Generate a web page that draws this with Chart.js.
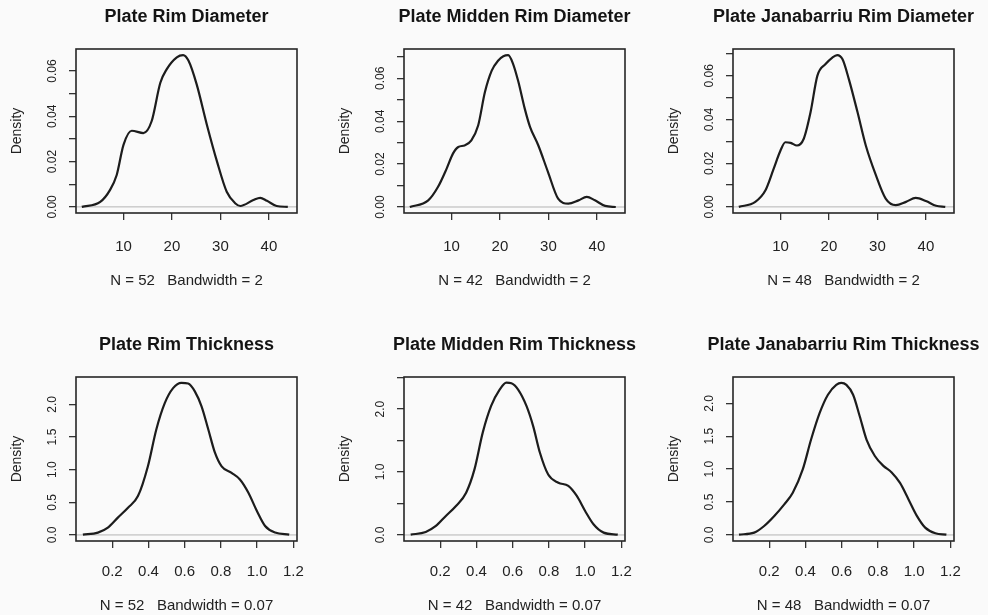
<!DOCTYPE html>
<html>
<head>
<meta charset="utf-8">
<script src="https://cdn.jsdelivr.net/npm/chart.js@4.4.1/dist/chart.umd.min.js"></script>
<style>
  html, body { margin: 0; padding: 0; background: #fafafa; overflow: hidden; }
  #wrap { position: relative; width: 988px; height: 615px; }
  canvas { position: absolute; }
</style>
</head>
<body>
<div id="wrap">
  <canvas id="p1" width="371" height="300" style="left:1px;top:0px"></canvas>
  <canvas id="p2" width="371" height="300" style="left:329px;top:0px"></canvas>
  <canvas id="p3" width="371" height="300" style="left:658px;top:0px"></canvas>
  <canvas id="p4" width="371" height="300" style="left:1px;top:328px"></canvas>
  <canvas id="p5" width="371" height="300" style="left:329px;top:328px"></canvas>
  <canvas id="p6" width="371" height="300" style="left:658px;top:328px"></canvas>
</div>
<script>
// density curves
const rimDiamX = [1.4, 5.2, 7.2, 8.6, 10.0, 11.7, 14.1, 15.8, 17.6, 18.9, 21.0, 22.3, 23.4, 25.1, 27.2, 29.3, 31.3, 33.1, 34.1, 36.8, 38.2, 39.6, 41.6, 43.9];
const rimDiamY = [0, 0.0022, 0.0074, 0.0141, 0.0274, 0.0336, 0.0326, 0.0378, 0.0548, 0.0607, 0.0660, 0.0670, 0.0646, 0.0541, 0.0363, 0.0200, 0.0067, 0.0015, 0.0004, 0.0030, 0.0040, 0.0027, 0.0004, 0];

const middenDiamX = [1.4, 5.2, 7.2, 9.0, 10.3, 11.4, 12.7, 14.1, 15.5, 16.9, 18.3, 19.6, 20.7, 21.7, 22.7, 23.8, 25.1, 26.2, 27.9, 29.9, 32.0, 34.1, 36.2, 37.9, 39.6, 41.7, 43.9];
const middenDiamY = [0, 0.0031, 0.0093, 0.0179, 0.0249, 0.0280, 0.0287, 0.0311, 0.0380, 0.0536, 0.0636, 0.0682, 0.0703, 0.0708, 0.0668, 0.0584, 0.0460, 0.0374, 0.0288, 0.0164, 0.0039, 0.0016, 0.0031, 0.0047, 0.0031, 0.0005, 0];

const janDiamX = [1.4, 4.8, 6.9, 8.6, 10.0, 11.0, 12.1, 13.4, 14.8, 16.2, 17.6, 19.3, 20.7, 21.7, 22.8, 24.1, 25.9, 27.6, 29.7, 31.7, 33.8, 35.9, 37.9, 40.0, 42.1, 44.0];
const janDiamY = [0, 0.0023, 0.0076, 0.0175, 0.0258, 0.0296, 0.0293, 0.0281, 0.0312, 0.0433, 0.0600, 0.0654, 0.0684, 0.0695, 0.0676, 0.0585, 0.0433, 0.0281, 0.0144, 0.0038, 0.0008, 0.0023, 0.0041, 0.0027, 0.0005, 0];

const rimThickX = [0.038, 0.121, 0.176, 0.231, 0.287, 0.342, 0.397, 0.443, 0.490, 0.536, 0.582, 0.619, 0.656, 0.693, 0.730, 0.767, 0.804, 0.859, 0.905, 0.951, 0.998, 1.044, 1.099, 1.177];
const rimThickY = [0.005, 0.036, 0.112, 0.265, 0.417, 0.595, 1.053, 1.613, 2.02, 2.25, 2.33, 2.32, 2.20, 1.97, 1.62, 1.26, 1.05, 0.95, 0.85, 0.65, 0.37, 0.137, 0.036, 0.005];

const middenThickX = [0.037, 0.120, 0.176, 0.231, 0.287, 0.343, 0.389, 0.435, 0.481, 0.528, 0.565, 0.593, 0.630, 0.676, 0.713, 0.750, 0.796, 0.852, 0.907, 0.954, 1.000, 1.046, 1.102, 1.180];
const middenThickY = [0.005, 0.048, 0.143, 0.302, 0.460, 0.672, 1.042, 1.63, 2.05, 2.31, 2.42, 2.41, 2.31, 2.05, 1.73, 1.31, 0.96, 0.83, 0.78, 0.62, 0.38, 0.17, 0.037, 0.005];

const janThickX = [0.033, 0.117, 0.172, 0.228, 0.283, 0.330, 0.385, 0.431, 0.478, 0.524, 0.570, 0.598, 0.626, 0.663, 0.700, 0.737, 0.783, 0.830, 0.876, 0.922, 0.969, 1.015, 1.061, 1.117, 1.178];
const janThickY = [0.005, 0.035, 0.136, 0.288, 0.465, 0.641, 0.995, 1.45, 1.85, 2.13, 2.28, 2.31, 2.28, 2.13, 1.80, 1.45, 1.20, 1.05, 0.95, 0.79, 0.54, 0.29, 0.111, 0.025, 0.005];

// ticks
const diamXTicks = [10, 20, 30, 40];
const diamXLabels = ["10", "20", "30", "40"];
const thickXTicks = [0.2, 0.4, 0.6, 0.8, 1.0, 1.2];
const thickXLabels = ["0.2", "0.4", "0.6", "0.8", "1.0", "1.2"];
const diamYTicks = [0, 0.01, 0.02, 0.03, 0.04, 0.05, 0.06, 0.07];
const diamYLabels = ["0.00", "", "0.02", "", "0.04", "", "0.06", ""];
const thickYTicks = [0, 0.5, 1.0, 1.5, 2.0, 2.5];
const thickYLabels = ["0.0", "0.5", "1.0", "1.5", "2.0", ""];
const middenThickYLabels = ["0.0", "", "1.0", "", "2.0", ""];

// axis ranges (as drawn)
const diamXRange = [0.2, 45.8];
const thickXRange = [0.0, 1.22];
const yRanges = [[-0.0027, 0.0697], [-0.0028, 0.0737], [-0.0028, 0.0723], [-0.093, 2.42], [-0.096, 2.51], [-0.092, 2.40]];

const titles = ["Plate Rim Diameter", "Plate Midden Rim Diameter", "Plate Janabarriu Rim Diameter",
                "Plate Rim Thickness", "Plate Midden Rim Thickness", "Plate Janabarriu Rim Thickness"];
const xLabels = ["N = 52   Bandwidth = 2", "N = 42   Bandwidth = 2", "N = 48   Bandwidth = 2",
                 "N = 52   Bandwidth = 0.07", "N = 42   Bandwidth = 0.07", "N = 48   Bandwidth = 0.07"];

Chart.defaults.font.family = "'Liberation Sans', Arial, sans-serif";
Chart.defaults.color = "#222";

const frame = {
  id: "frame",
  beforeDatasetsDraw(chart) {
    const {ctx, chartArea: a, scales} = chart;
    const y0 = scales.y.getPixelForValue(0);
    ctx.save();
    ctx.strokeStyle = "#b4b4b4";
    ctx.lineWidth = 1;
    ctx.beginPath();
    ctx.moveTo(a.left, y0);
    ctx.lineTo(a.right, y0);
    ctx.stroke();
    ctx.restore();
  },
  afterDraw(chart) {
    const {ctx, chartArea: a} = chart;
    ctx.save();
    ctx.strokeStyle = "#262626";
    ctx.lineWidth = 1.6;
    ctx.strokeRect(a.left, a.top, a.right - a.left, a.bottom - a.top);
    ctx.restore();
  }
};

const measure = document.createElement("canvas").getContext("2d");

function panel(id, i, xs, ys, xRange, xTicks, xTickLabels, yTicks, yTickLabels) {
  const yr = yRanges[i];
  const topRow = i < 3;
  measure.font = "12px 'Liberation Sans'";
  const widest = Math.max(...yTickLabels.map(t => measure.measureText(t).width));

  new Chart(document.getElementById(id), {
    type: "line",
    data: {
      datasets: [{
        data: xs.map((x, k) => ({x: x, y: ys[k]})),
        borderColor: "#1c1c1c",
        borderWidth: 2.2,
        pointRadius: 0,
        fill: false,
        cubicInterpolationMode: "monotone"
      }]
    },
    options: {
      responsive: false,
      animation: false,
      devicePixelRatio: 1,
      layout: {padding: 0},
      plugins: {
        legend: {display: false},
        tooltip: {enabled: false},
        title: {
          display: true,
          text: titles[i],
          color: "#141414",
          font: {size: 18, weight: "bold"},
          padding: {top: 6, bottom: 21.4}
        }
      },
      scales: {
        x: {
          type: "linear",
          position: "bottom",
          min: xRange[0],
          max: xRange[1],
          afterBuildTicks: s => { s.ticks = xTicks.map(v => ({value: v})); },
          afterFit: s => { s.height = 87; s.paddingLeft = 0; s.paddingRight = 75; },
          ticks: {
            autoSkip: false,
            maxRotation: 0,
            padding: topRow ? 18 : 15,
            font: {size: 15},
            callback: (v, k) => xTickLabels[k]
          },
          grid: {drawOnChartArea: false, drawTicks: true, tickLength: 7, color: "#333", lineWidth: 1.3},
          border: {display: false},
          title: {
            display: true,
            text: xLabels[i],
            font: {size: 15},
            padding: {top: 0, bottom: topRow ? 10 : 13}
          }
        },
        y: {
          type: "linear",
          position: "left",
          min: yr[0],
          max: yr[1],
          afterBuildTicks: s => { s.ticks = yTicks.filter(v => v <= yr[1]).map(v => ({value: v})); },
          afterFit: s => { s.width = 75; s.paddingTop = 0; s.paddingBottom = 0; },
          ticks: {
            autoSkip: false,
            minRotation: 90,
            maxRotation: 90,
            crossAlign: "center",
            padding: 16 - widest / 2,
            font: {size: 12},
            callback: (v, k) => yTickLabels[k]
          },
          grid: {drawOnChartArea: false, drawTicks: true, tickLength: 7, color: "#333", lineWidth: 1.3},
          border: {display: false},
          title: {
            display: true,
            text: "Density",
            font: {size: 14},
            padding: {top: 8, bottom: 0}
          }
        }
      }
    },
    plugins: [frame]
  });
}

panel("p1", 0, rimDiamX, rimDiamY, diamXRange, diamXTicks, diamXLabels, diamYTicks, diamYLabels);
panel("p2", 1, middenDiamX, middenDiamY, diamXRange, diamXTicks, diamXLabels, diamYTicks, diamYLabels);
panel("p3", 2, janDiamX, janDiamY, diamXRange, diamXTicks, diamXLabels, diamYTicks, diamYLabels);
panel("p4", 3, rimThickX, rimThickY, thickXRange, thickXTicks, thickXLabels, thickYTicks, thickYLabels);
panel("p5", 4, middenThickX, middenThickY, thickXRange, thickXTicks, thickXLabels, thickYTicks, middenThickYLabels);
panel("p6", 5, janThickX, janThickY, thickXRange, thickXTicks, thickXLabels, thickYTicks, thickYLabels);
</script>
</body>
</html>
